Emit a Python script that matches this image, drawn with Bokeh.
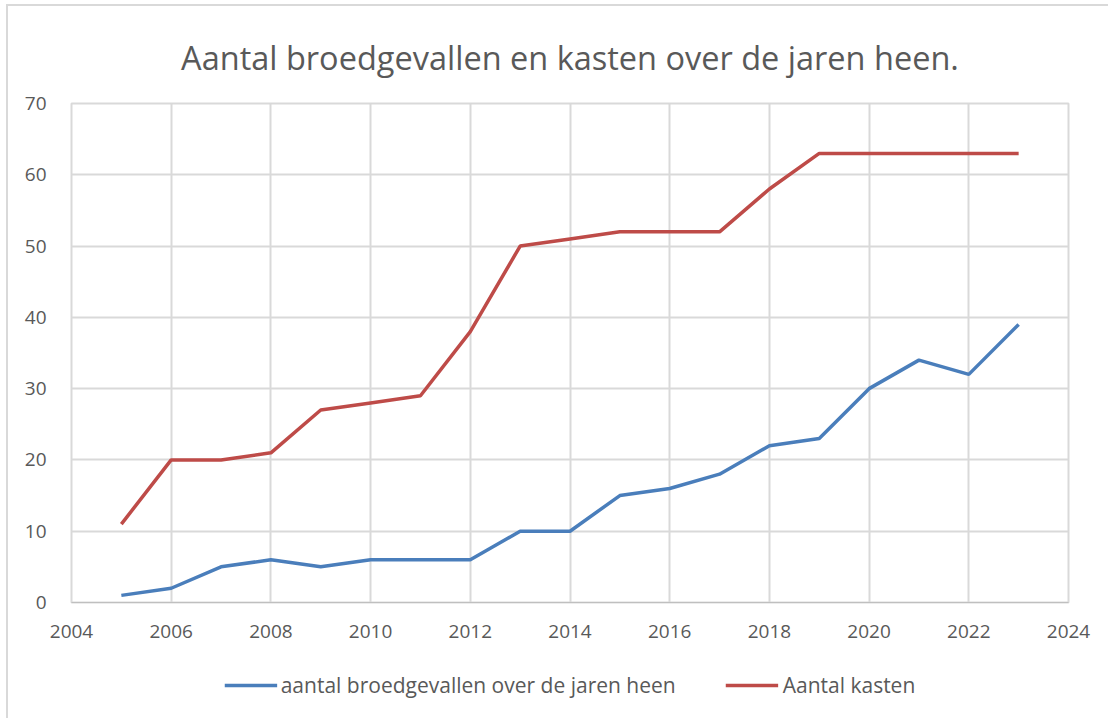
from bokeh.plotting import figure
from bokeh.layouts import column
from bokeh.models import Legend, LegendItem, FixedTicker, Title
from bokeh.embed import file_html
from bokeh.resources import INLINE

years = [2005, 2006, 2007, 2008, 2009, 2010, 2011, 2012, 2013, 2014,
         2015, 2016, 2017, 2018, 2019, 2020, 2021, 2022, 2023]
broedgevallen = [1, 2, 5, 6, 5, 6, 6, 6, 10, 10, 15, 16, 18, 22, 23, 30, 34, 32, 39]
kasten = [11, 20, 20, 21, 27, 28, 29, 38, 50, 51, 52, 52, 52, 58, 63, 63, 63, 63, 63]
x_ticks = [2004, 2006, 2008, 2010, 2012, 2014, 2016, 2018, 2020, 2022, 2024]
y_ticks = [0, 10, 20, 30, 40, 50, 60, 70]
title_text = "Aantal broedgevallen en kasten over de jaren heen."
label_blue = "aantal broedgevallen over de jaren heen"
label_red = "Aantal kasten"

FONT = "Open Sans"
TXT = "#595959"
GRID = "#d9d9d9"
BLUE = "#4A7EBB"
RED = "#BE4B48"

p = figure(width=1100, height=646, output_backend="svg", toolbar_location=None,
           x_range=(2004, 2024), y_range=(0, 70),
           min_border_left=63, min_border_right=40, min_border_top=97, min_border_bottom=50)

p.title = Title(text=title_text, align="center", text_font=FONT, text_font_size="32.5px",
                text_font_style="normal", text_color=TXT, standoff=48)

p.line(years, broedgevallen, line_color=BLUE, line_width=3.5)
p.line(years, kasten, line_color=RED, line_width=3.5)

p.xaxis.ticker = FixedTicker(ticks=x_ticks)
p.yaxis.ticker = FixedTicker(ticks=y_ticks)
for ax in (p.xaxis, p.yaxis):
    ax.axis_line_color = None
    ax.major_tick_line_color = None
    ax.minor_tick_line_color = None
    ax.major_label_text_font = FONT
    ax.major_label_text_font_size = "19px"
    ax.major_label_text_color = TXT
p.xaxis.major_label_standoff = 16
p.yaxis.major_label_standoff = 19
p.xaxis.axis_line_color = "#bfbfbf"

p.xgrid.ticker = FixedTicker(ticks=x_ticks)
p.ygrid.ticker = FixedTicker(ticks=y_ticks)
p.grid.grid_line_color = GRID
p.grid.grid_line_width = 2
p.outline_line_color = GRID
p.outline_line_width = 2

# legend strip (separate small figure so the legend is not clipped)
lf = figure(width=1100, height=66, output_backend="svg", toolbar_location=None,
            x_axis_type=None, y_axis_type=None, x_range=(0, 1), y_range=(0, 1),
            min_border=0, min_border_left=20)
lf.outline_line_color = None
lf.grid.visible = False
lb = lf.line([-5, -4], [-5, -4], line_color=BLUE, line_width=3.5)
lr = lf.line([-5, -4], [-5, -4], line_color=RED, line_width=3.5)
legend = Legend(items=[LegendItem(label=label_blue, renderers=[lb]),
                       LegendItem(label=label_red, renderers=[lr])],
                orientation="horizontal", location="center",
                label_text_font=FONT, label_text_font_size="21px", label_text_color=TXT,
                glyph_width=53, label_standoff=4, spacing=50,
                border_line_color=None, background_fill_alpha=0, margin=0, padding=5)
lf.add_layout(legend, "center")

layout = column(p, lf, spacing=0)
layout.styles = {"border-left": "2px solid #d9d9d9", "border-top": "2px solid #d9d9d9",
                 "margin-left": "6px", "margin-top": "4px"}

open("out.html", "w").write(file_html(layout, INLINE))
